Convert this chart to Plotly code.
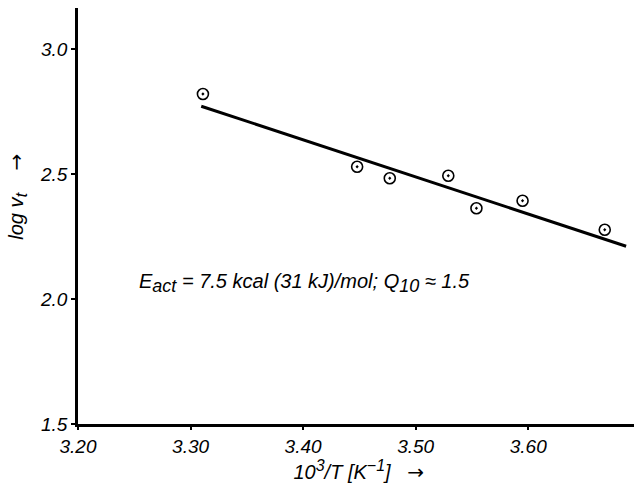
import plotly.graph_objects as go

# Data
inv_T = [3.311, 3.448, 3.477, 3.529, 3.554, 3.595, 3.668]
log_vt = [2.820, 2.529, 2.483, 2.493, 2.363, 2.393, 2.277]

fit_x = [3.3095, 3.687]
fit_y = [2.771, 2.211]

x_ticks = [3.20, 3.30, 3.40, 3.50, 3.60]
x_ticklabels = ["3.20", "3.30", "3.40", "3.50", "3.60"]
y_ticks = [1.5, 2.0, 2.5, 3.0]
y_ticklabels = ["1.5", "2.0", "2.5", "3.0"]

FONT = "Liberation Sans, Arial, sans-serif"


def small(s, px):
    return '<span style="font-size:%dpx">%s</span>' % (px, s)


ARROW = '<span style="font-family:DejaVu Sans;font-style:normal">→</span>'
SP = "&nbsp;"

fig = go.Figure()
fig.add_trace(go.Scatter(
    x=fit_x, y=fit_y, mode="lines",
    line=dict(color="black", width=3), showlegend=False, hoverinfo="skip"))
fig.add_trace(go.Scatter(
    x=inv_T, y=log_vt, mode="markers",
    marker=dict(symbol="circle-open-dot", size=11, color="black",
                line=dict(color="black", width=1.6)),
    showlegend=False))

fig.add_annotation(
    x=3.252, y=2.066, xref="x", yref="y", xanchor="left", yanchor="middle",
    text="E<sub>" + small("act", 18) + "</sub> = 7.5 kcal (31 kJ)/mol; Q<sub>"
         + small("10", 18) + "</sub> ≈ 1.5",
    showarrow=False,
    font=dict(family=FONT, size=20, color="black", style="italic"))

# y-axis title (placed as rotated text)
fig.add_annotation(
    x=-0.108, y=0.546, xref="paper", yref="paper",
    xanchor="center", yanchor="middle", textangle=-90,
    text="log v<sub>" + small("t", 17) + "</sub>" + SP * 4 + ARROW,
    showarrow=False,
    font=dict(family=FONT, size=20, color="black", style="italic"))

fig.update_layout(
    width=634, height=490,
    margin=dict(l=78, r=0, t=8, b=66),
    paper_bgcolor="white", plot_bgcolor="white",
    font=dict(family=FONT, size=18, color="black", style="italic"),
    xaxis=dict(
        range=[3.20, 3.694], tickvals=x_ticks, ticktext=x_ticklabels,
        showgrid=False, zeroline=False, showline=True, linecolor="black",
        linewidth=2.5, ticks="outside", ticklen=3, tickwidth=1.5,
        tickcolor="black",
        tickfont=dict(family=FONT, size=19, color="black", style="italic"),
        title=dict(text=SP + "10<sup>" + small("3", 16) + "</sup>/T [K<sup>"
                        + small("−1", 16) + "</sup>]" + SP * 3 + ARROW,
                   standoff=4,
                   font=dict(family=FONT, size=20, color="black",
                             style="italic"))),
    yaxis=dict(
        range=[1.5, 3.164], tickvals=y_ticks, ticktext=y_ticklabels,
        showgrid=False, zeroline=False, showline=True, linecolor="black",
        linewidth=2.5, ticks="outside", ticklen=4, tickwidth=1.5,
        tickcolor="black",
        tickfont=dict(family=FONT, size=19, color="black", style="italic")),
)

fig.write_html("out.html")
